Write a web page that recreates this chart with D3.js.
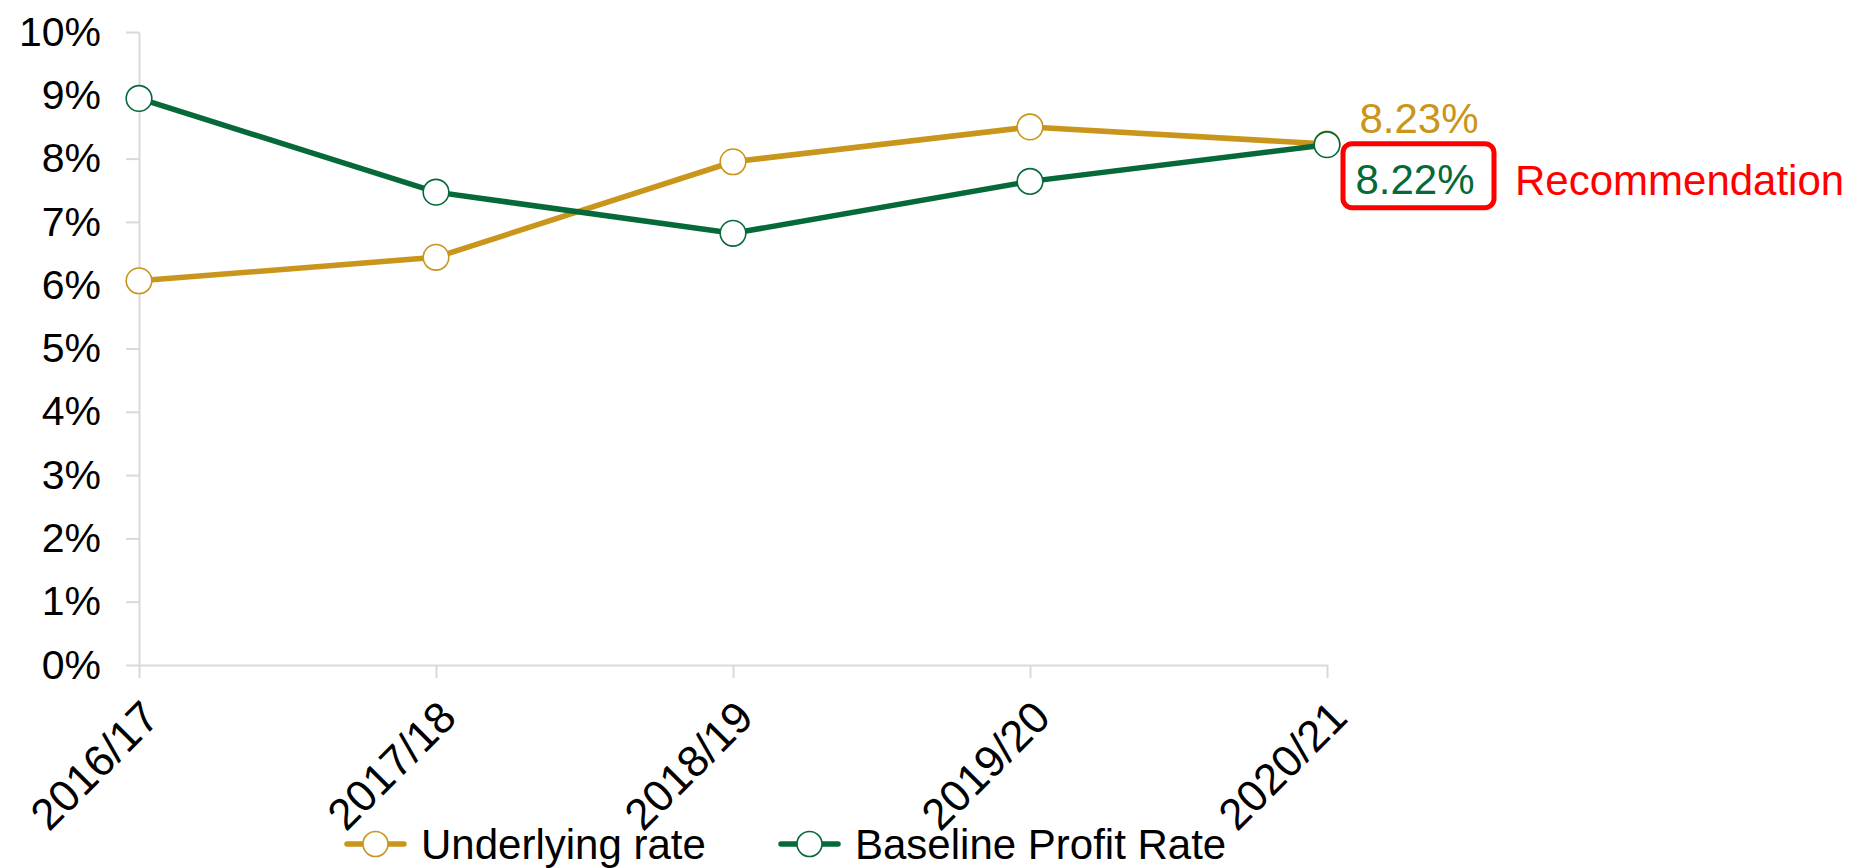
<!DOCTYPE html>
<html>
<head>
<meta charset="utf-8">
<script src="https://cdn.jsdelivr.net/npm/d3@7"></script>
<style>
  body { margin: 0; background: #fff; }
  svg { display: block; font-family: "Liberation Sans", Arial, sans-serif; }
</style>
</head>
<body>
<svg id="chart" width="1863" height="868"></svg>
<script>
const categories = ["2016/17", "2017/18", "2018/19", "2019/20", "2020/21"];
const underlying = [6.07, 6.44, 7.95, 8.50, 8.23];
const baseline = [8.95, 7.47, 6.82, 7.64, 8.22];
const yTicks = [0, 1, 2, 3, 4, 5, 6, 7, 8, 9, 10];
const seriesNames = ["Underlying rate", "Baseline Profit Rate"];

const gold = "#c9951a";
const green = "#05693a";
const axisColor = "#d9d9d9";

let svg = d3.select("#chart");

let x = d3.scalePoint()
	.domain(categories)
	.range([139, 1327]);

let y = d3.scaleLinear()
	.domain([0, 10])
	.range([665, 32]);

// y axis
let yAxis = svg.append("g")
	.attr("transform", "translate(139,0)")
	.call(d3.axisLeft(y).tickValues(yTicks).tickFormat(d => d + "%").tickSize(13).tickSizeOuter(0).tickPadding(25));
yAxis.selectAll("path, line").attr("stroke", axisColor).attr("stroke-width", 2);
yAxis.selectAll("text").attr("font-size", 41).attr("fill", "#000").attr("font-family", null);

// x axis
let xAxis = svg.append("g")
	.attr("transform", "translate(0,665)")
	.call(d3.axisBottom(x).tickSize(13).tickSizeOuter(0));
xAxis.selectAll("path, line").attr("stroke", axisColor).attr("stroke-width", 2);
xAxis.selectAll("text")
	.attr("font-size", 44)
	.attr("fill", "#000")
	.attr("font-family", null)
	.attr("x", 0).attr("y", 0).attr("dy", 0)
	.attr("text-anchor", "end")
	.attr("transform", "translate(22,55) rotate(-45)");

let line = d3.line()
	.x((d, i) => x(categories[i]))
	.y(d => y(d));

function drawSeries(values, color) {
	svg.append("path")
		.datum(values)
		.attr("fill", "none")
		.attr("stroke", color)
		.attr("stroke-width", 5.5)
		.attr("d", line);

	svg.append("g")
		.selectAll("circle")
		.data(values)
		.join("circle")
		.attr("cx", (d, i) => x(categories[i]))
		.attr("cy", d => y(d))
		.attr("r", 12.8)
		.attr("fill", "#fff")
		.attr("stroke", color)
		.attr("stroke-width", 1.6);
}

drawSeries(underlying, gold);
drawSeries(baseline, green);

// end labels
let lastX = x(categories[categories.length - 1]);
let lastU = underlying[underlying.length - 1];
let lastB = baseline[baseline.length - 1];

svg.append("text")
	.attr("x", lastX + 92)
	.attr("y", y(lastU) - 11)
	.attr("text-anchor", "middle")
	.attr("font-size", 42)
	.attr("fill", gold)
	.text(lastU.toFixed(2) + "%");

svg.append("rect")
	.attr("x", lastX + 16)
	.attr("y", y(lastB) - 1)
	.attr("width", 151)
	.attr("height", 64)
	.attr("rx", 9)
	.attr("fill", "none")
	.attr("stroke", "#ff0000")
	.attr("stroke-width", 5);

svg.append("text")
	.attr("x", lastX + 88)
	.attr("y", y(lastB) + 49)
	.attr("text-anchor", "middle")
	.attr("font-size", 42)
	.attr("fill", green)
	.text(lastB.toFixed(2) + "%");

svg.append("text")
	.attr("x", lastX + 188)
	.attr("y", y(lastB) + 50)
	.attr("font-size", 42)
	.attr("fill", "#ff0000")
	.text("Recommendation");

// legend
let legendItems = [
	{name: seriesNames[0], color: gold, x: 347},
	{name: seriesNames[1], color: green, x: 781}
];
let legend = svg.append("g").attr("transform", "translate(0,844)");
legendItems.forEach(item => {
	let g = legend.append("g").attr("transform", `translate(${item.x},0)`);
	g.append("line")
		.attr("x1", 0).attr("x2", 57)
		.attr("stroke", item.color)
		.attr("stroke-width", 5.5)
		.attr("stroke-linecap", "round");
	g.append("circle")
		.attr("cx", 28.5)
		.attr("r", 12.5)
		.attr("fill", "#fff")
		.attr("stroke", item.color)
		.attr("stroke-width", 1.6);
	g.append("text")
		.attr("x", 74)
		.attr("dy", "0.35em")
		.attr("font-size", 42)
		.attr("fill", "#000")
		.text(item.name);
});
</script>
</body>
</html>
